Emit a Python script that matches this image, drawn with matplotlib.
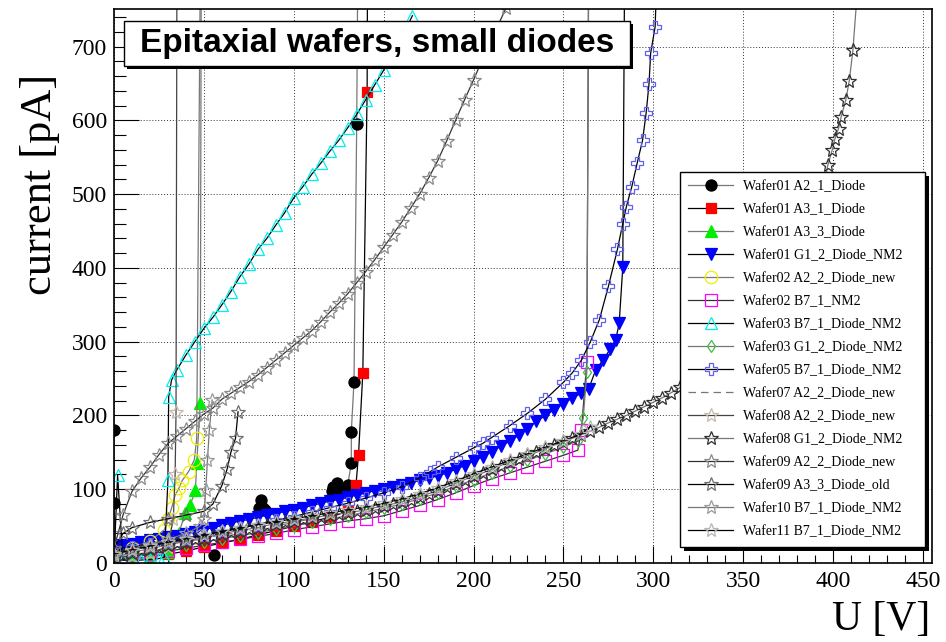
"""IV curves of epitaxial wafers, small diodes (ROOT-style look)."""

import matplotlib
matplotlib.use('Agg')
import matplotlib.pyplot as plt
from matplotlib.patches import Rectangle
from matplotlib.ticker import MultipleLocator

plt.rcParams.update({
    'font.family': 'serif', 'font.serif': ['Liberation Serif', 'DejaVu Serif'],
    'axes.linewidth': 1.2,
})

# ---- data: U [V] / current [pA] ----
w01_a21_u = [0, 0, 1, 10, 20, 30, 40, 50, 55.5, 60, 70, 80.5, 81.6, 83, 84, 90, 100, 110,
             121, 122, 124, 126, 130, 132, 132, 133.5, 135, 135.6]
w01_a21_i = [180, 81, 20, 22, 25, 28, 30, 32, 11, 35, 40, 74, 85, 74, 72, 50, 55, 60,
             97, 103, 108, 100, 106, 135, 178, 246, 595, 800]

w01_a31_u = [0, 10, 20, 30, 40, 50, 60, 70, 80, 90, 100, 110, 120, 130, 134.6, 136, 138.4, 140.8, 141]
w01_a31_i = [4, 6, 8, 12, 16, 22, 27, 32, 38, 44, 50, 56, 62, 70, 106, 146, 258, 639, 800]

w01_a33_u = [0, 10, 20, 30, 36, 39.7, 42.5, 45.3, 46, 48, 48.5]
w01_a33_i = [2, 5, 8, 15, 40, 68, 79, 99, 135, 217, 800]

w01_g12_u = [0, 5, 10, 15, 20, 25, 30, 35, 40, 45, 50, 55, 60, 65, 70, 75, 80, 85, 90, 95,
             100, 105, 110, 115, 120, 125, 130, 135, 140, 145, 150, 155, 160, 165, 170, 175,
             180, 185, 190, 195, 200, 205, 210, 215, 220, 225, 230, 235, 240, 245, 250, 255,
             260, 264, 268, 272, 276, 279, 281, 283, 284]
w01_g12_i = [22, 24, 26, 28, 31, 33, 35, 37, 39, 42, 45, 48, 51, 54, 57, 59, 62, 65, 67, 70,
             72, 75, 78, 81, 84, 86, 89, 92, 95, 98, 100, 103, 106, 109, 112, 115,
             118, 122, 127, 132, 138, 144, 151, 158, 165, 173, 182, 192, 200, 208, 216, 224,
             230, 236, 262, 275, 290, 302, 325, 401, 800]

w02_a22_u = [0, 10, 20, 28, 30, 32, 34, 36, 38, 41.5, 44.7, 46, 48]
w02_a22_i = [10, 20, 30, 45, 60, 74, 92, 101, 112, 124, 140, 169, 800]

w02_b71_u = [0, 10, 20, 30, 40, 50, 60, 70, 80, 90, 100, 110, 120, 130, 140, 150, 160, 170,
             180, 190, 200, 210, 220, 230, 240, 250, 258, 260, 263, 264]
w02_b71_i = [3, 8, 12, 16, 20, 24, 28, 32, 36, 40, 45, 49, 53, 57, 60, 64, 71, 78,
             86, 95, 105, 114, 122, 130, 138, 146, 153, 180, 273, 800]

w03_b71_u = [0, 2, 5, 10, 15, 20, 25, 28, 30, 30.4, 32, 35, 40, 45, 50, 55, 60, 65, 70, 75,
             80, 85, 90, 95, 100, 105, 110, 115, 120, 125, 130, 135, 140, 145, 150, 155, 160, 166]
w03_b71_i = [3, 119, 4, 3, 4, 5, 6, 8, 112, 225, 248, 262, 282, 300, 318, 333, 350, 368, 388, 405,
             425, 440, 458, 475, 495, 510, 527, 542, 558, 573, 590, 608, 628, 648, 668, 690, 712, 742]

w03_g12_u = [0, 10, 20, 30, 40, 50, 60, 70, 80, 90, 100, 110, 120, 130, 140, 150, 160, 170,
             180, 190, 200, 210, 220, 230, 240, 250, 258, 261, 263, 264]
w03_g12_i = [6, 11, 15, 19, 24, 28, 33, 37, 41, 46, 50, 55, 60, 64, 69, 74, 80, 87,
             95, 104, 113, 122, 131, 139, 148, 157, 166, 196, 259, 800]

w05_b71_u = [0, 10, 20, 30, 40, 50, 60, 70, 80, 90, 100, 110, 120, 130, 140, 150, 160, 170,
             176, 180, 190, 200, 205, 210, 220, 230, 240, 250, 255, 260, 265, 270, 275, 280,
             283, 285, 288, 291, 294, 296, 297.6, 298.5, 301, 302]
w05_b71_i = [18, 22, 26, 30, 34, 38, 42, 47, 52, 58, 63, 69, 75, 81, 88, 95, 103, 115,
             124, 130, 143, 156, 162, 170, 186, 203, 222, 245, 258, 275, 300, 330, 375, 425,
             460, 483, 510, 542, 573, 610, 650, 691, 727, 800]

w07_a22_u = [0, 20, 40, 60, 80, 100]
w07_a22_i = [14, 22, 30, 38, 45, 52]

w08_a22_u = [0, 10, 20, 30, 33, 34, 34.5, 35]
w08_a22_i = [6, 10, 14, 22, 60, 120, 205, 800]

w08_g12_u = [0, 5, 10, 15, 20, 25, 30, 35, 40, 45, 50, 55, 60, 65, 70, 75, 80, 85, 90, 95,
             100, 105, 110, 115, 120, 125, 130, 135, 140, 145, 150, 155, 160, 165, 170, 175,
             180, 185, 190, 195, 200, 205, 210, 215, 220, 225, 230, 235, 240, 245, 250, 255,
             260, 265, 270, 275, 280, 285, 290, 295, 300, 305, 310, 315, 320, 330, 340, 350,
             360, 370, 380, 390, 397, 399.5, 401, 403, 404.5, 407, 409, 411, 413]
w08_g12_i = [8, 11, 14, 17, 19, 22, 24, 27, 29, 32, 34, 37, 39, 42, 44, 46, 48, 51, 53, 55,
             57, 59, 61, 63, 65, 67, 68, 70, 72, 75, 77, 80, 83, 86, 90, 94,
             98, 103, 108, 113, 118, 122, 127, 132, 137, 141, 146, 150, 155, 160, 164, 169,
             174, 179, 184, 190, 195, 200, 206, 212, 218, 224, 231, 238, 245, 260, 278, 298,
             320, 348, 385, 450, 539, 560, 575, 589, 605, 627, 654, 695, 760]

w09_a22_u = [0, 5, 10, 15, 20, 25, 30, 35, 40, 45, 50, 55, 60, 65, 70, 75, 80, 85, 90, 95,
             100, 105, 110, 115, 120, 125, 130, 135, 140, 145, 150, 155, 160, 165, 170, 175,
             180, 185, 190, 195, 200, 205, 210, 218]
w09_a22_i = [20, 65, 97, 115, 130, 147, 162, 172, 182, 192, 202, 210, 222, 230, 238, 246,
             255, 265, 275, 285, 295, 305, 315, 327, 340, 352, 365, 380, 395, 411, 428, 445,
             462, 481, 500, 522, 545, 572, 600, 628, 655, 683, 710, 752]

w09_a33_u = [0, 5, 10, 20, 30, 40, 50, 55, 60, 63, 65, 67.6, 69]
w09_a33_i = [20, 40, 48, 55, 60, 65, 70, 80, 105, 128, 150, 169, 205]

w10_b71_u = [0, 10, 20, 30, 40, 48, 50, 51, 52, 53, 54.6]
w10_b71_i = [10, 18, 25, 32, 40, 50, 60, 99, 140, 180, 221]

w11_b71_u = [0, 10, 20, 30, 40, 50, 60, 70, 80, 90, 100, 110, 120, 130, 140, 150, 160, 170,
             180, 190, 200, 210, 220, 230, 240, 250, 260, 265]
w11_b71_i = [12, 18, 23, 28, 33, 38, 43, 48, 52, 56, 60, 64, 68, 72, 76, 81, 87, 94,
             102, 111, 121, 130, 139, 148, 157, 166, 175, 185]

labels = ['Wafer01 A2_1_Diode', 'Wafer01 A3_1_Diode', 'Wafer01 A3_3_Diode',
          'Wafer01 G1_2_Diode_NM2', 'Wafer02 A2_2_Diode_new', 'Wafer02 B7_1_NM2',
          'Wafer03 B7_1_Diode_NM2', 'Wafer03 G1_2_Diode_NM2', 'Wafer05 B7_1_Diode_NM2',
          'Wafer07 A2_2_Diode_new', 'Wafer08 A2_2_Diode_new', 'Wafer08 G1_2_Diode_NM2',
          'Wafer09 A2_2_Diode_new', 'Wafer09 A3_3_Diode_old', 'Wafer10 B7_1_Diode_NM2',
          'Wafer11 B7_1_Diode_NM2']

curves = [(w01_a21_u, w01_a21_i), (w01_a31_u, w01_a31_i), (w01_a33_u, w01_a33_i),
          (w01_g12_u, w01_g12_i), (w02_a22_u, w02_a22_i), (w02_b71_u, w02_b71_i),
          (w03_b71_u, w03_b71_i), (w03_g12_u, w03_g12_i), (w05_b71_u, w05_b71_i),
          (w07_a22_u, w07_a22_i), (w08_a22_u, w08_a22_i), (w08_g12_u, w08_g12_i),
          (w09_a22_u, w09_a22_i), (w09_a33_u, w09_a33_i), (w10_b71_u, w10_b71_i),
          (w11_b71_u, w11_b71_i)]

GRAY = '#777777'
styles = [
    dict(marker='o', ms=8, mfc='black', mec='black', color=GRAY),
    dict(marker='s', ms=7.5, mfc='#ff0000', mec='#ff0000', color='black'),
    dict(marker='^', ms=8, mfc='#00ee00', mec='#00ee00', color=GRAY),
    dict(marker='v', ms=8.5, mfc='#0000ff', mec='#0000ff', color='black'),
    dict(marker='o', ms=9, mfc='none', mec='#eeee00', color=GRAY),
    dict(marker='s', ms=8, mfc='none', mec='#ff00ff', color='#333333'),
    dict(marker='^', ms=8, mfc='none', mec='#00eeee', color='black'),
    dict(marker='d', ms=6, mfc='none', mec='#44bb44', color=GRAY),
    dict(marker='P', ms=9, mfc='none', mec='#6060ee', color='black'),
    dict(marker='', color=GRAY, ls=(0, (6, 4))),
    dict(marker='*', ms=10, mfc='none', mec='#c8b8a8', color='#444444'),
    dict(marker='*', ms=10, mfc='none', mec='#303030', color=GRAY),
    dict(marker='*', ms=10, mfc='none', mec='#8a8a8a', color='#333333'),
    dict(marker='*', ms=10, mfc='none', mec='#707070', color='black'),
    dict(marker='*', ms=10, mfc='none', mec='#9a9a9a', color=GRAY),
    dict(marker='*', ms=10, mfc='none', mec='#b5b5b5', color='black'),
]

W, H = 946, 642
fig = plt.figure(figsize=(W / 100, H / 100), dpi=100)
ax = fig.add_axes([114 / W, 1 - 563 / H, (932 - 114) / W, (563 - 9) / H])

for k, ((u, i), lab, st) in enumerate(zip(curves, labels, styles)):
    ax.plot(u, i, label=lab, lw=0.9, mew=0.9, zorder=2 + 0.01 * k, **st)

ax.set_xlim(0, 455)
ax.set_ylim(0, 751)
ax.xaxis.set_major_locator(MultipleLocator(50))
ax.xaxis.set_minor_locator(MultipleLocator(10))
ax.yaxis.set_major_locator(MultipleLocator(100))
ax.yaxis.set_minor_locator(MultipleLocator(20))
ax.tick_params(axis='both', which='both', direction='in', labelsize=17, width=0.8,
               top=False, right=False)
ax.tick_params(axis='y', which='major', length=18, pad=5)
ax.tick_params(axis='y', which='minor', length=8.5)
ax.tick_params(axis='x', which='major', length=12, pad=6)
ax.tick_params(axis='x', which='minor', length=6)
ax.grid(True, which='major', linestyle=(0, (1, 2)), color='#333333', linewidth=0.7)
ax.set_axisbelow(True)

fig.text(40 / W, 1 - 74 / H, 'current [pA]', rotation=90, ha='center', va='top', fontsize=32)
fig.text(930 / W, 1 - 620 / H, 'U [V]', ha='right', va='center', fontsize=30)

# title box with shadow
tx0, tx1, ty0, ty1 = 124, 630, 21, 66
fig.add_artist(Rectangle(((tx0 + 3) / W, 1 - (ty1 + 3) / H), (tx1 - tx0) / W, (ty1 - ty0) / H,
                         transform=fig.transFigure, facecolor='black', edgecolor='none', zorder=5))
fig.add_artist(Rectangle((tx0 / W, 1 - ty1 / H), (tx1 - tx0) / W, (ty1 - ty0) / H,
                         transform=fig.transFigure, facecolor='white', edgecolor='black',
                         linewidth=1.0, zorder=6))
fig.text((tx0 + tx1) / 2 / W, 1 - (ty0 + ty1) / 2 / H, 'Epitaxial wafers, small diodes',
         family='Liberation Sans', weight='bold', fontsize=24, ha='center', va='center', zorder=7)

# legend with hard shadow
leg = ax.legend(loc='upper left', bbox_to_anchor=(680 / W, 1 - 546 / H, 245 / W, 374 / H),
                bbox_transform=fig.transFigure, mode='expand', borderaxespad=0,
                fontsize=10, handlelength=3.2, handletextpad=0.7, labelspacing=0.72,
                borderpad=0.6, fancybox=False, edgecolor='black', framealpha=1, numpoints=1)
leg.get_frame().set_linewidth(1.0)
leg.set_zorder(10)
fig.canvas.draw()
bb = leg.get_window_extent().transformed(fig.transFigure.inverted())
shadow = Rectangle((bb.x0 + 4 / W, bb.y0 - 4 / H), bb.width, bb.height, transform=fig.transFigure,
                   facecolor='black', edgecolor='none', zorder=9.9, clip_on=False)
ax.add_artist(shadow)

fig.savefig('out.png', dpi=100)
plt.close()
print("[OK] out.png")
